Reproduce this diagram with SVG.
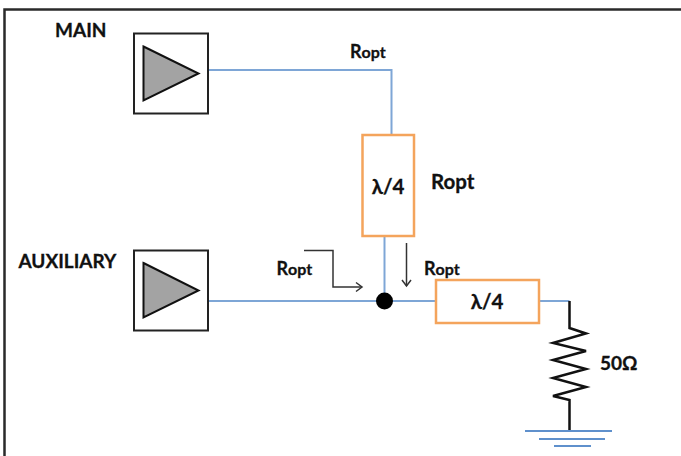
<svg xmlns="http://www.w3.org/2000/svg" width="681" height="456" viewBox="0 0 681 456">
<defs>
<marker id="open" markerUnits="userSpaceOnUse" markerWidth="12" markerHeight="12" refX="9" refY="6" orient="auto"><path d="M3 1.500 L9 6 L3 10.500" fill="none" stroke="#333" stroke-width="1.500"/></marker>
</defs>
<style>
text{font-family:"Lato","Liberation Sans",sans-serif;font-weight:700;fill:#111;stroke:#111;stroke-width:.3px}
.box{fill:#fff;stroke:#222;stroke-width:2}
.tri{fill:#a3a3a3;stroke:#111;stroke-width:2;stroke-linejoin:miter}
.wire{fill:none;stroke:#7ea6d6;stroke-width:2}
.qw{fill:#fff;stroke:#f4a45c;stroke-width:2.500}
.arrow{fill:none;stroke:#333;stroke-width:1.500;marker-end:url(#open)}
.res{fill:none;stroke:#111;stroke-width:2.500;stroke-linejoin:miter}
.gnd{fill:none;stroke:#5f90cc;stroke-width:1.800}
.l{font-size:19px}
.m{font-size:20.500px}
.s{font-size:18px}
.o{font-size:16px}
</style>
<rect width="681" height="456" fill="#fff"/>
<path d="M4.500 456 V9.500 H681" fill="none" stroke="#2a2a2a" stroke-width="2.500"/>
<g id="connectors">
<path class="wire" d="M208 70 H391.500 V135"/>
<path class="wire" d="M384.500 236 V301"/>
<path class="wire" d="M208 301 H436"/>
<path class="wire" d="M539 301 H569.500"/>
<path class="arrow" d="M304 250.500 H333 V287 H362"/>
<path class="arrow" d="M406.500 243 V286"/>
</g>
<g id="main-amp">
<rect class="box" x="134" y="33.500" width="74" height="80"/>
<polygon class="tri" points="143.500,46.500 198.500,73.500 143.500,100.500"/>
<text class="l" x="55" y="36.500">MAIN</text>
</g>
<g id="aux-amp">
<rect class="box" x="134" y="250.500" width="74" height="80"/>
<polygon class="tri" points="143.500,263 198.500,290.500 143.500,317.500"/>
<text class="l" x="18.500" y="268">AUXILIARY</text>
</g>
<g id="qw-vertical">
<rect class="qw" x="362.500" y="135" width="51.500" height="101"/>
<text class="m" x="388" y="193.500" text-anchor="middle">λ/4</text>
</g>
<g id="qw-horizontal">
<rect class="qw" x="436" y="280" width="103" height="43"/>
<text class="m" x="487" y="309" text-anchor="middle">λ/4</text>
</g>
<g id="junction"><circle cx="384.500" cy="301" r="8.500" fill="#000"/></g>
<g id="load">
<path class="res" d="M569.500 301 V328 L586 333.500 L553 343 L586 351 L553 360 L586 369 L553 378 L586 387 L553 396 L569.500 400 V431"/>
<text class="m" x="600" y="370" style="font-size:19px">50Ω</text>
</g>
<g id="ground">
<path class="gnd" d="M525 431 H612 M539 439 H605 M554 446 H591"/>
</g>
<g id="labels">
<text class="s" x="350" y="58">R<tspan class="o">opt</tspan></text>
<text class="m" x="431" y="189">Ropt</text>
<text class="s" x="276.500" y="274.500">R<tspan class="o">opt</tspan></text>
<text class="s" x="424" y="275">R<tspan class="o">opt</tspan></text>
</g>
</svg>
